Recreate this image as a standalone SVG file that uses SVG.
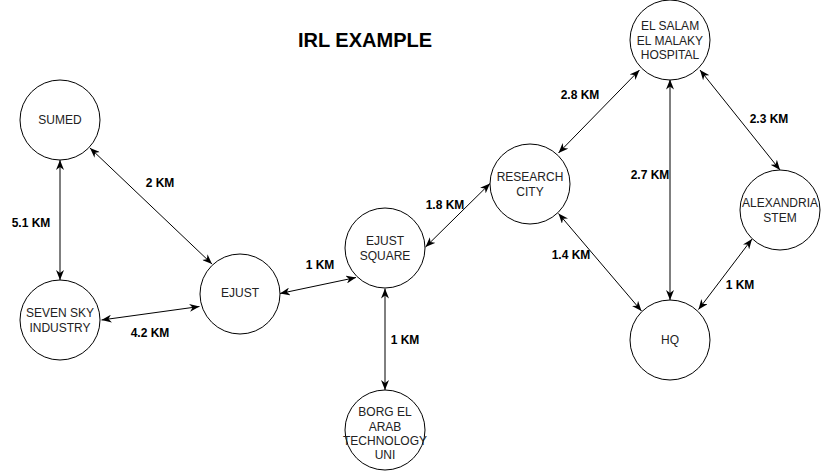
<svg xmlns="http://www.w3.org/2000/svg" width="821" height="476" viewBox="0 0 821 476">
<defs>
<style>
.node circle{fill:#fff;stroke:#000;stroke-width:1}
.node text{font-family:"Liberation Sans",Arial,sans-serif;font-size:12px;fill:#222;text-anchor:middle}
.edge{stroke:#000;stroke-width:1;fill:none;marker-start:url(#arr);marker-end:url(#arr)}
.lbl{font-family:"Liberation Sans",Arial,sans-serif;font-size:12px;font-weight:bold;fill:#000;text-anchor:middle}
.title{font-family:"Liberation Sans",Arial,sans-serif;font-size:20px;font-weight:bold;fill:#000;text-anchor:middle}
</style>
<marker id="arr" viewBox="0 0 10 8" refX="10" refY="4" markerWidth="10" markerHeight="8" markerUnits="userSpaceOnUse" orient="auto-start-reverse">
<path d="M0,0 L10,4 L0,8 L3,4 Z" fill="#000"/>
</marker>
</defs>
<rect width="821" height="476" fill="#fff"/>
<text class="title" x="365" y="47">IRL EXAMPLE</text>
<g id="connectors">
<line class="edge" x1="60" y1="160" x2="60" y2="280"/>
<line class="edge" x1="90" y1="148" x2="212" y2="264"/>
<line class="edge" x1="101.5" y1="320" x2="199.5" y2="306.5"/>
<line class="edge" x1="280" y1="293.5" x2="356" y2="277.5"/>
<line class="edge" x1="385" y1="288.5" x2="385" y2="390"/>
<line class="edge" x1="425.5" y1="247" x2="490" y2="183.5"/>
<line class="edge" x1="558.5" y1="153" x2="639.5" y2="70"/>
<line class="edge" x1="670" y1="79.5" x2="670" y2="300"/>
<line class="edge" x1="700" y1="70" x2="780" y2="170"/>
<line class="edge" x1="558.5" y1="213.5" x2="641.5" y2="311"/>
<line class="edge" x1="752" y1="239" x2="698.5" y2="309.5"/>
<text class="lbl" x="160" y="187">2 KM</text>
<text class="lbl" x="31" y="227">5.1 KM</text>
<text class="lbl" x="150" y="337">4.2 KM</text>
<text class="lbl" x="320" y="269">1 KM</text>
<text class="lbl" x="445" y="209">1.8 KM</text>
<text class="lbl" x="405" y="344">1 KM</text>
<text class="lbl" x="571" y="259">1.4 KM</text>
<text class="lbl" x="580" y="99">2.8 KM</text>
<text class="lbl" x="650" y="179">2.7 KM</text>
<text class="lbl" x="769" y="123">2.3 KM</text>
<text class="lbl" x="740" y="289">1 KM</text>
</g>
<g id="sumed" class="node"><circle cx="60" cy="120" r="40"/><text x="60" y="124">SUMED</text></g>
<g id="seven-sky" class="node"><circle cx="60" cy="320" r="40"/><text x="60" y="317">SEVEN SKY</text><text x="60" y="332">INDUSTRY</text></g>
<g id="ejust" class="node"><circle cx="240" cy="294" r="40"/><text x="240" y="297">EJUST</text></g>
<g id="ejust-square" class="node"><circle cx="385" cy="248" r="40"/><text x="385" y="245">EJUST</text><text x="385" y="260">SQUARE</text></g>
<g id="borg" class="node"><circle cx="385" cy="430" r="40"/><text x="385" y="416">BORG EL</text><text x="385" y="430.5">ARAB</text><text x="385" y="445">TECHNOLOGY</text><text x="385" y="459">UNI</text></g>
<g id="research-city" class="node"><circle cx="530" cy="184" r="40"/><text x="530" y="180.5">RESEARCH</text><text x="530" y="195.5">CITY</text></g>
<g id="el-salam" class="node"><circle cx="670" cy="40" r="40"/><text x="670" y="29.5">EL SALAM</text><text x="670" y="44.5">EL MALAKY</text><text x="670" y="59">HOSPITAL</text></g>
<g id="alexandria" class="node"><circle cx="780" cy="210" r="40"/><text x="780" y="207">ALEXANDRIA</text><text x="780" y="222">STEM</text></g>
<g id="hq" class="node"><circle cx="670" cy="340" r="40"/><text x="670" y="344">HQ</text></g>
</svg>
